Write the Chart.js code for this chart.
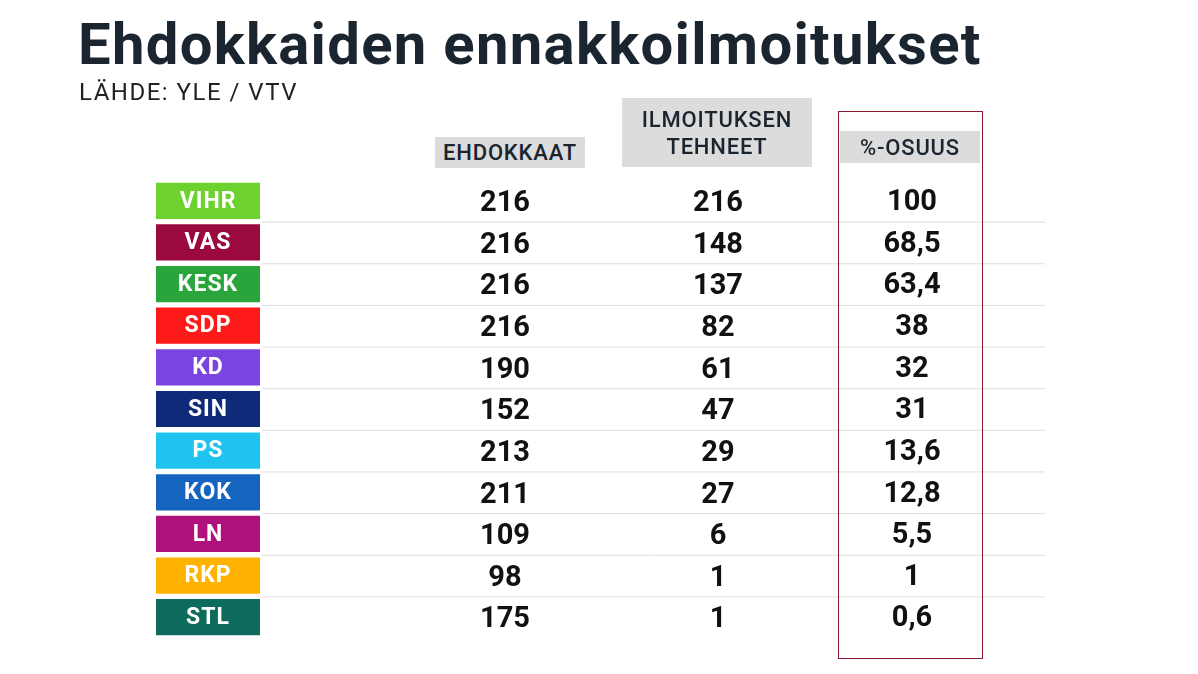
<!DOCTYPE html>
<html><head><meta charset="utf-8">
<script src="https://cdn.jsdelivr.net/npm/chart.js@4"></script>
<style>
body{margin:0;width:1198px;height:674px;background:#fff;font-family:Roboto,sans-serif;position:relative;overflow:hidden}
#c{position:absolute;left:0;top:0}
.t{position:absolute;left:78px;top:10px;font-size:58px;font-weight:700;color:#1a2530;letter-spacing:1.3px}
.s{position:absolute;left:79px;top:78px;font-size:24px;color:#222;letter-spacing:1.5px}
.h{position:absolute;background:#dcdcdc;color:#1a2530;font-size:22px;font-weight:500;text-align:center;display:flex;align-items:center;justify-content:center;line-height:27px;letter-spacing:0.8px}
.box{position:absolute;left:838px;top:111px;width:143px;height:546px;border:1.5px solid #8a1b2e}
</style></head><body>
<canvas id="c" width="1198" height="674"></canvas>
<div class="t">Ehdokkaiden ennakkoilmoitukset</div>
<div class="s">LÄHDE: YLE / VTV</div>
<div class="h" style="left:435px;top:137px;width:150px;height:31px">EHDOKKAAT</div>
<div class="h" style="left:622px;top:98px;width:190px;height:69px">ILMOITUKSEN<br>TEHNEET</div>
<div class="h" style="left:840px;top:131px;width:140px;height:32px">%-OSUUS</div>
<div class="box"></div>
<script>
const parties=["VIHR","VAS","KESK","SDP","KD","SIN","PS","KOK","LN","RKP","STL"];
const candidates=[216,216,216,216,190,152,213,211,109,98,175];
const reported=[216,148,137,82,61,47,29,27,6,1,1];
const share=["100","68,5","63,4","38","32","31","13,6","12,8","5,5","1","0,6"];
const colors=["#6dd12e","#9b0a3f","#2aa53b","#ff1a1a","#7a44e0","#0f2a78","#1ec3ef","#1565c0","#b0127d","#ffb300","#0c6b5c"];
const textPlugin={id:'txt',afterDatasetsDraw(ch){
 const c=ch.ctx,y=ch.scales.y;
 c.save();
 c.strokeStyle='#dddddd';c.lineWidth=1;
 for(let i=0;i<parties.length-1;i++){const p=(y.getPixelForValue(i)+y.getPixelForValue(i+1))/2;c.beginPath();c.moveTo(262,p+0.5);c.lineTo(1045,p+0.5);c.stroke();}
 c.textAlign='center';c.textBaseline='middle';
 parties.forEach((p,i)=>{const py=y.getPixelForValue(i);
  c.fillStyle='#fff';c.font='700 23px Roboto';c.letterSpacing='1px';c.fillText(p,208,py+1);c.letterSpacing='0px';
  c.fillStyle='#111';c.font='700 29px Roboto';
  c.fillText(String(candidates[i]),505,py+3);
  c.fillText(String(reported[i]),718,py+3);
  c.fillText(share[i],912,py+2);
 });
 c.restore();}};
new Chart(document.getElementById('c'),{type:'bar',
 data:{labels:parties,datasets:[{data:parties.map(()=>[156,260]),backgroundColor:colors,barPercentage:1,categoryPercentage:0.87}]},
 options:{indexAxis:'y',responsive:false,animation:false,devicePixelRatio:1,
  layout:{padding:{top:180,bottom:36,left:0,right:0}},
  plugins:{legend:{display:false},tooltip:{enabled:false}},
  scales:{x:{type:'linear',min:0,max:1198,display:false},y:{display:false}}},
 plugins:[textPlugin]});
</script></body></html>
